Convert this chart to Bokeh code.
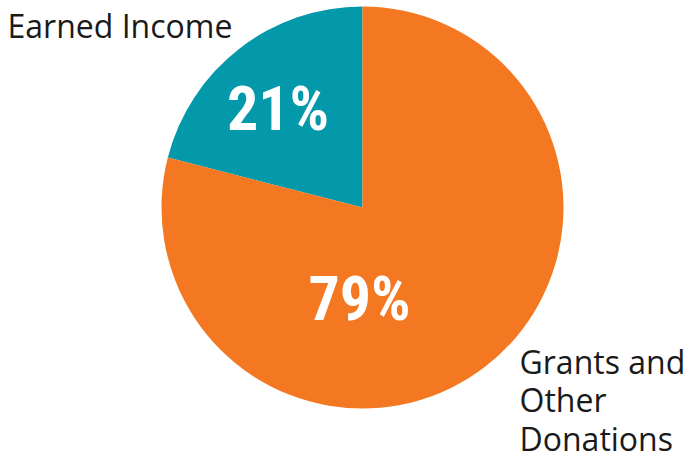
import math
from bokeh.plotting import figure
from bokeh.models import ColumnDataSource
from bokeh.core.properties import value
from bokeh.embed import file_html
from bokeh.resources import INLINE

categories = ["Earned Income", "Grants and Other Donations"]
shares = [21, 79]
pct_labels = ["21%", "79%"]
colors = ["#0399AA", "#F47821"]

W, H = 686, 454
p = figure(width=W, height=H, x_range=(0, W), y_range=(0, H),
           output_backend="svg", toolbar_location=None, min_border=0,
           match_aspect=False)
p.axis.visible = False
p.grid.visible = False
p.outline_line_color = None
p.background_fill_color = "white"
p.border_fill_color = "white"

def Y(s):  # screen y -> data y
    return H - s
def X(s):
    return s

cx, cy, r = X(362), Y(207), 201
total = sum(shares)
starts, ends = [], []
acc = 0.0
for v in shares:
    a0 = math.pi / 2 + 2 * math.pi * acc / total
    acc += v
    a1 = math.pi / 2 + 2 * math.pi * acc / total
    starts.append(a0)
    ends.append(a1)

src = ColumnDataSource(dict(start=starts, end=ends, color=colors, cat=categories))
p.wedge(x=cx, y=cy, radius=r, start_angle="start", end_angle="end",
        direction="anticlock", fill_color="color", line_color=None, source=src)

# percentage labels
PF = 62
off_p = 0.385 * PF
lbl = ColumnDataSource(dict(x=[X(277.5), X(359)], y=[Y(132) + off_p, Y(322) + off_p], t=pct_labels))
p.text(x="x", y="y", text="t", source=lbl,
       text_font=value("'Roboto Condensed', 'Roboto', sans-serif"),
       text_font_style="bold", text_font_size=f"{PF}px", text_color="white",
       text_align="center", text_baseline="alphabetic")

# category labels
LF = 32
off_l = 0.39 * LF
p.text(x=[X(7)], y=[Y(37) + off_l], text=[categories[0]],
       text_font=value("Open Sans"), text_font_size=f"{LF}px", text_color="#1a1a1a",
       text_align="left", text_baseline="alphabetic")
lines = ["Grants and", "Other", "Donations"]
p.text(x=[X(519)] * 3, y=[Y(373) + off_l, Y(411.5) + off_l, Y(450) + off_l], text=lines,
       text_font=value("Open Sans"), text_font_size=f"{LF}px", text_color="#1a1a1a",
       text_align="left", text_baseline="alphabetic")

open("out.html", "w").write(file_html(p, INLINE))
